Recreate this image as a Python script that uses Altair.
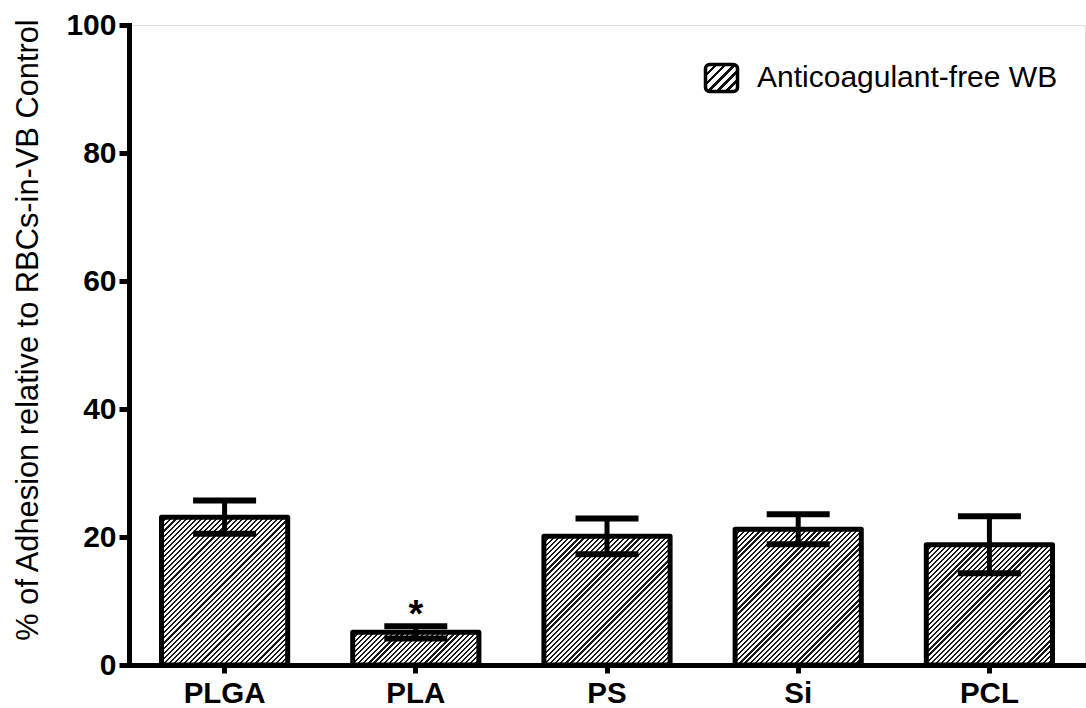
import math
import altair as alt
import pandas as pd

# ---- data ----
materials = ["PLGA", "PLA", "PS", "Si", "PCL"]
means = [23.1, 5.1, 20.1, 21.2, 18.8]
sds = [2.6, 0.95, 2.8, 2.35, 4.45]
sig = ["", "*", "", "", ""]
legend_label = ["Anticoagulant-free WB"]
y_ticks = [0, 20, 40, 60, 80, 100]

df = pd.DataFrame({"material": materials, "mean": means, "sd": sds, "sig": sig})

# ---- layout ----
W, H = 956, 640
PAD_L, PAD_T = 129, 25
P_IN = 0.34
FONT = "Liberation Sans"

step = W / 5.0
bar_w = step * (1 - P_IN)
px_per_unit = H / 100.0


def hatch(w, h, period, frac, dark="#1a1a1a", light="#ffffff"):
    """45-degree '/' stripes as a hard-stop linear gradient for a w x h box."""
    a = w * (w + h) / (w * w + h * h)
    b = h * (w + h) / (w * w + h * h)
    n = (w + h) / (math.sqrt(2) * period)
    dt = 1.0 / n
    stops = []
    t = 0.0
    while t < 1.0 - 1e-9:
        t1 = min(t + frac * dt, 1.0)
        t2 = min(t + dt, 1.0)
        stops += [
            {"offset": round(t, 5), "color": dark},
            {"offset": round(t1, 5), "color": dark},
            {"offset": round(t1, 5), "color": light},
            {"offset": round(t2, 5), "color": light},
        ]
        t += dt
    return {"gradient": "linear", "x1": 0, "y1": 0, "x2": round(a, 4),
            "y2": round(b, 4), "stops": stops}


conds = []
for m, v in zip(materials, means):
    conds.append({"test": f"datum.material === '{m}'",
                  "value": hatch(bar_w, v * px_per_unit, 3.6, 0.42)})
fill_enc = {"condition": conds, "value": "#888888"}

x_enc = alt.X("material:N", sort=materials, title=None,
              scale=alt.Scale(paddingInner=P_IN, paddingOuter=P_IN / 2),
              axis=alt.Axis(labelAngle=0, labelFont=FONT, labelFontSize=29.5,
                            labelFontWeight="bold", labelColor="black",
                            labelPadding=6, tickSize=8, tickWidth=5,
                            tickColor="black", domainWidth=5, domainColor="black",
                            domainCap="square"))
y_scale = alt.Scale(domain=[0, 100], nice=False)

base = alt.Chart(df)

bars = base.mark_bar(stroke="black", strokeWidth=5, strokeJoin="round").encode(
    x=x_enc,
    y=alt.Y("mean:Q", scale=y_scale,
            title="% of Adhesion relative to RBCs-in-VB Control",
            axis=alt.Axis(values=y_ticks, grid=False, labelFont=FONT,
                          labelFontSize=30, labelFontWeight="bold",
                          labelColor="black", labelPadding=3, tickSize=10,
                          tickWidth=5, tickColor="black", domainWidth=5,
                          domainColor="black", domainCap="square",
                          titleFont=FONT, titleFontSize=30.8, titleFontWeight="normal",
                          titleColor="black", titleAngle=270, titleAlign="center",
                          titleBaseline="alphabetic", titleX=-92, titleY=304.5)),
    fill=fill_enc,
)

err_base = base.transform_calculate(
    lo="datum.mean - datum.sd", hi="datum.mean + datum.sd")

stem = err_base.mark_rule(color="black", strokeWidth=5).encode(
    x=alt.X("material:N", sort=materials),
    y=alt.Y("lo:Q", scale=y_scale),
    y2="hi:Q",
)
cap_hi = err_base.mark_tick(color="black", size=63, thickness=6, opacity=1).encode(
    x=alt.X("material:N", sort=materials),
    y=alt.Y("hi:Q", scale=y_scale),
)
cap_lo = err_base.mark_tick(color="black", size=63, thickness=6, opacity=1).encode(
    x=alt.X("material:N", sort=materials),
    y=alt.Y("lo:Q", scale=y_scale),
)
star = err_base.mark_text(font=FONT, fontSize=38, fontWeight="bold", color="black",
                          baseline="alphabetic", align="center", dy=1).encode(
    x=alt.X("material:N", sort=materials),
    y=alt.Y("hi:Q", scale=y_scale),
    text="sig:N",
)

# ---- legend (drawn manually, top right) ----
leg_df = pd.DataFrame({"label": legend_label})
sw_x1, sw_x2, sw_y1, sw_y2 = 705.5 - PAD_L, 737.5 - PAD_L, 64.5 - PAD_T, 91.5 - PAD_T
leg_swatch = alt.Chart(leg_df).mark_rect(
    stroke="black", strokeWidth=3.5, cornerRadius=4,
    fill=hatch(sw_x2 - sw_x1, sw_y2 - sw_y1, 6.5, 0.38, dark="#111111"),
).encode(x=alt.value(sw_x1), x2=alt.value(sw_x2), y=alt.value(sw_y1), y2=alt.value(sw_y2))
leg_text = alt.Chart(leg_df).mark_text(
    font=FONT, fontSize=30, color="black", align="left", baseline="alphabetic",
).encode(x=alt.value(757 - PAD_L), y=alt.value(87 - PAD_T), text="label:N")

chart = alt.layer(bars, stem, cap_hi, cap_lo, star, leg_swatch, leg_text).properties(
    width=W, height=H,
    padding={"left": PAD_L, "top": PAD_T, "right": 1, "bottom": 43},
    autosize=alt.AutoSizeParams(type="none"),
).configure_view(stroke=None).configure(background="white")

chart.save("out.html", embed_options={"renderer": "svg", "actions": False})
